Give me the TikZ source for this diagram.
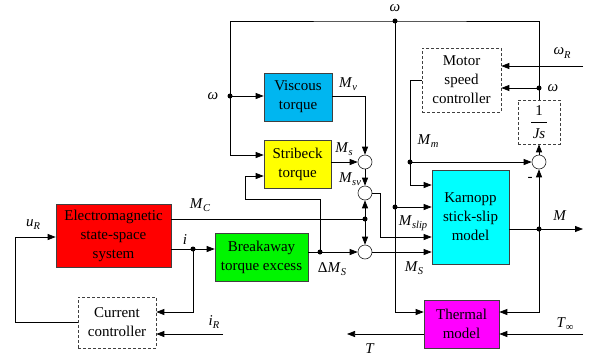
\documentclass[tikz,border=0pt]{standalone}
\usepackage{fontspec}
\setmainfont{Liberation Serif}
\usetikzlibrary{arrows.meta,calc}
\newcommand{\lb}[2]{\textit{#1}\raisebox{-0.45ex}{\fontsize{10.5}{10.5}\selectfont\textit{#2}}}
\definecolor{cviscous}{RGB}{0,182,240}
\definecolor{cyellow}{RGB}{255,255,0}
\definecolor{cred}{RGB}{255,0,0}
\definecolor{cgreen}{RGB}{0,245,0}
\definecolor{ccyan}{RGB}{0,255,255}
\definecolor{cmag}{RGB}{255,0,255}
\begin{document}
\begin{tikzpicture}[x=1pt,y=-1pt,
  line width=0.75pt,
  box/.style={draw=black!75, line width=0.6pt, align=center, inner sep=0pt,
    font=\fontsize{15}{19}\selectfont},
  dbox/.style={box, dashed, dash pattern=on 3pt off 2pt},
  sumc/.style={circle, draw=black!85, fill=white, line width=0.6pt, inner sep=0pt, minimum size=14pt},
  dot/.style={circle, fill=black, inner sep=0pt, minimum size=5pt},
  arr/.style={-{Triangle[length=8pt,width=6pt]}},
  lab/.style={font=\fontsize{15}{15}\selectfont, inner sep=0pt}]
\useasboundingbox (0,0) rectangle (600,359);

% boxes
\node[box, fill=cviscous, minimum width=68pt, minimum height=48pt] (visc) at (298,97) {Viscous\\torque};
\node[box, fill=cyellow, minimum width=67pt, minimum height=48pt] (strib) at (297.5,164) {Stribeck\\torque};
\node[box, fill=cred, minimum width=115pt, minimum height=63pt] (em) at (113.5,235.5) {Electromagnetic\\state-space\\system};
\node[box, fill=cgreen, minimum width=93pt, minimum height=48pt] (brk) at (261.5,257) {Breakaway\\torque excess};
\node[box, fill=ccyan, minimum width=77pt, minimum height=94pt] (karn) at (470.5,217) {Karnopp\\stick-slip\\model};
\node[box, fill=cmag, minimum width=75pt, minimum height=48pt] (therm) at (461.5,324) {Thermal\\model};
\node[dbox, minimum width=79pt, minimum height=64pt] (msc) at (461.5,80) {Motor\\speed\\controller};
\node[dbox, minimum width=78pt, minimum height=51pt] (cc) at (117,322.5) {Current\\controller};
\node[dbox, minimum width=42pt, minimum height=44pt] (js) at (539,122) {};
\node[lab] (jsone) at (539,111) {1};
\node[lab] (jsden) at (539,134) {\textit{Js}};
\draw[line width=0.6pt] ($(js.center)+(-8,0)$) -- ($(js.center)+(8,0)$);

% summing points
\node[sumc] (s1) at (365,162) {};
\node[sumc] (s2) at (365,193) {};
\node[sumc] (s3) at (365,252) {};
\node[sumc] (s4) at (539,162) {};

% dots
\node[dot] (jtop) at (395,21) {};
\node[dot] (jw) at (230,96) {};
\node[dot] (jmm) at (410,162) {};
\node[dot] (jw2) at (395,207) {};
\node[dot] (jom) at (539,88) {};
\node[dot] (jM) at (539,229) {};
\node[dot] (jmc) at (365,219) {};
\node[dot] (jds) at (320,252) {};
\node[dot] (ji) at (193,249) {};

\coordinate (wR) at (583,66);
\coordinate (Mout) at (583,229);
\coordinate (Tinf) at (583,334);
\coordinate (Tout) at (347,334);
\coordinate (iR) at (223,334);

% omega feedback
\draw (js.north) -- (jom.center);
\draw (jom.center) |- (jtop.center) -| (jw.center);
\draw[arr] (jw.center) -- (jw.center -| visc.west);
\draw[arr] (jw.center) |- ($(strib.west)+(0,-9)$);
\draw[arr] (jom.center) -- (jom.center -| msc.east);
\draw[arr] (wR) -- (wR -| msc.east);

% friction torques
\draw[arr] (visc.east |- 0,96) -| (s1.north);
\draw[arr] (strib.east |- s1) -- (s1.west);
\draw[arr] (s1.south) -- (s2.north);
\draw[arr] (s2.east) -- ++(8,0) |- ($(karn.west)+(0,20)$);
\draw[arr] (s3.east) -- (s3.east -| karn.west);
\draw (em.east |- jmc) -- (jmc.center);
\draw[arr] (jmc.center) -- (s2.south);
\draw[arr] (jmc.center) -- (s3.north);
\draw (brk.east |- jds) -- (jds.center);
\draw[arr] (jds.center) -- (s3.west);
\draw[arr] (jds.center) |- (245,199) |- ($(strib.west)+(0,12)$);

% omega to Karnopp / thermal
\draw[arr] (jtop.center) |- ($(therm.west)+(0,-12)$);
\draw[arr] (jw2.center) -- (jw2.center -| karn.west);

% motor torque
\draw[arr] (msc.west) -- (410,80) |- ($(karn.west)+(0,-32)$);
\draw[arr] (jmm.center) -- (s4.west);
\draw[arr] (s4.north) -- (js.south);

% Karnopp output
\draw (karn.east |- jM) -- (jM.center);
\draw[arr] (jM.center) -- (Mout);
\draw[arr] (jM.center) -- (s4.south);
\draw[arr] (jM.center) |- ($(therm.east)+(0,-12)$);

% thermal
\draw[arr] (Tinf) -- (Tinf -| therm.east);
\draw[arr] (therm.west |- Tout) -- (Tout);

% electrical
\draw (em.east |- ji) -- (ji.center);
\draw[arr] (ji.center) -- (brk.west |- ji);
\draw[arr] (ji.center) |- ($(cc.east)+(0,-10.5)$);
\draw[arr] (iR) -- (iR -| cc.east);
\draw[arr] (cc.west) -- (15,322.5) |- ($(em.west)+(0,1.5)$);

% labels
\node[lab] (lw1) at (395,8) {\textit{ω}};
\node[lab] (lw2) at (213,96) {\textit{ω}};
\node[lab] (lw3) at (553,88) {\textit{ω}};
\node[lab] (lwR) at (562,53) {\lb{ω}{R}};
\node[lab] (lMv) at (348,84) {\lb{M}{v}};
\node[lab] (lMs) at (344,149) {\lb{M}{s}};
\node[lab] (lMsv) at (350,179) {\lb{M}{sv}};
\node[lab] (lMC) at (200,205) {\lb{M}{C}};
\node[lab] (li) at (185,240) {\textit{i}};
\node[lab] (luR) at (33,225) {\lb{u}{R}};
\node[lab] (liR) at (214,322) {\lb{i}{R}};
\node[lab] (ldMS) at (332,269) {Δ\lb{M}{S}};
\node[lab] (lMS) at (414,268) {\lb{M}{S}};
\node[lab] (lMslip) at (413,223) {\lb{M}{slip}};
\node[lab] (lMm) at (428,141) {\lb{M}{m}};
\node[lab] (lM) at (560,216) {\textit{M}};
\node[lab] (lTinf) at (565,324) {\lb{T}{∞}};
\node[lab] (lT) at (370,349) {\textit{T}};
\node[lab] (lminus) at (530,179) {-};
\end{tikzpicture}
\end{document}
